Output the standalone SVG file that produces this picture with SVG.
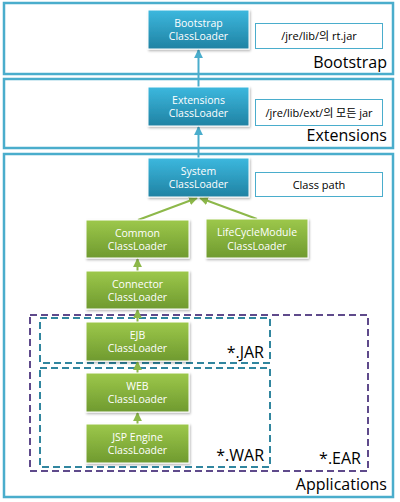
<svg xmlns="http://www.w3.org/2000/svg" width="400" height="502" viewBox="0 0 400 502">
<defs>
<linearGradient id="gb" x1="0" y1="0" x2="0" y2="1"><stop offset="0" stop-color="#3cb8de"/><stop offset="1" stop-color="#2082a3"/></linearGradient>
<linearGradient id="gg" x1="0" y1="0" x2="0" y2="1"><stop offset="0" stop-color="#9dc84b"/><stop offset="1" stop-color="#6f9a2f"/></linearGradient>
<filter id="sh" x="-10%" y="-10%" width="125%" height="130%"><feDropShadow dx="1" dy="1.5" stdDeviation="1" flood-color="#000" flood-opacity="0.3"/></filter>
<marker id="ab" viewBox="0 0 10 10" refX="9" refY="5" markerWidth="4.5" markerHeight="4.5" orient="auto"><path d="M0,0 L10,5 L0,10 z" fill="#4aadcc"/></marker>
<marker id="ag" viewBox="0 0 10 10" refX="9" refY="5" markerWidth="4.5" markerHeight="4.5" orient="auto"><path d="M0,0 L10,5 L0,10 z" fill="#8db84a"/></marker>
</defs>
<style>
.zone{fill:#fff;stroke:#4aadcc;stroke-width:2.5}
.nb{fill:url(#gb);stroke:#fff;stroke-width:1;filter:url(#sh)}
.ng{fill:url(#gg);stroke:#fff;stroke-width:1;filter:url(#sh)}
.nt{font-family:"Open Sans","Noto Sans CJK KR",sans-serif;font-size:10.5px;fill:#fff;text-anchor:middle}
.info{fill:#fff;stroke:#4aadcc;stroke-width:1}
.it{font-family:"Open Sans","Noto Sans CJK KR",sans-serif;font-size:11px;fill:#000;text-anchor:middle}
.lbl{font-family:"Open Sans","Noto Sans CJK KR",sans-serif;font-size:16px;fill:#000;text-anchor:end}
.cb{stroke:#4aadcc;stroke-width:2;fill:none;marker-end:url(#ab)}
.cg{stroke:#8db84a;stroke-width:2;fill:none;marker-end:url(#ag)}
.dp{fill:none;stroke:#5f4a8b;stroke-width:2;stroke-dasharray:7,4}
.dt{fill:none;stroke:#31869f;stroke-width:2;stroke-dasharray:7,4}
</style>
<g id="zone-bootstrap"><rect class="zone" x="4" y="3" width="389" height="71"/><text class="lbl" x="387" y="68">Bootstrap</text></g>
<g id="zone-extensions"><rect class="zone" x="4" y="79" width="389" height="69"/><text class="lbl" x="387" y="141">Extensions</text></g>
<g id="zone-applications"><rect class="zone" x="4" y="154" width="389" height="343"/><text class="lbl" x="387" y="490">Applications</text></g>
<g id="ear"><rect class="dp" x="30" y="315" width="338" height="156"/><text class="lbl" x="361" y="464">*.EAR</text></g>
<g id="jar"><rect class="dt" x="40" y="318" width="230" height="45"/><text class="lbl" x="264" y="358">*.JAR</text></g>
<g id="war"><rect class="dt" x="40" y="368" width="230" height="99"/><text class="lbl" x="264" y="461">*.WAR</text></g>
<g id="connectors">
<line class="cb" x1="198.5" y1="87" x2="198.5" y2="50"/>
<line class="cb" x1="198.5" y1="158" x2="198.5" y2="127"/>
<line class="cg" x1="138" y1="220" x2="197" y2="198"/>
<line class="cg" x1="257" y1="219" x2="200" y2="198"/>
<line class="cg" x1="137.5" y1="271" x2="137.5" y2="259"/>
<line class="cg" x1="137.5" y1="322" x2="137.5" y2="310"/>
<line class="cg" x1="137.5" y1="373" x2="137.5" y2="362"/>
<line class="cg" x1="137.5" y1="424" x2="137.5" y2="413"/>
</g>
<g id="bootstrap"><rect class="nb" x="148" y="10" width="101" height="39"/><text class="nt" x="198.5" y="27">Bootstrap</text><text class="nt" x="198.5" y="40">ClassLoader</text></g>
<g id="bootstrap-info"><rect class="info" x="255.5" y="23.5" width="127" height="25"/><text class="it" x="319" y="40">/jre/lib/의 rt.jar</text></g>
<g id="extensions"><rect class="nb" x="148" y="87" width="101" height="39"/><text class="nt" x="198.5" y="104">Extensions</text><text class="nt" x="198.5" y="117">ClassLoader</text></g>
<g id="extensions-info"><rect class="info" x="255.5" y="99.5" width="127" height="26"/><text class="it" x="319" y="117">/jre/lib/ext/의 모든 jar</text></g>
<g id="system"><rect class="nb" x="148" y="158" width="101" height="39"/><text class="nt" x="198.5" y="175">System</text><text class="nt" x="198.5" y="188">ClassLoader</text></g>
<g id="system-info"><rect class="info" x="255.5" y="172.5" width="127" height="24"/><text class="it" x="319" y="189">Class path</text></g>
<g id="common"><rect class="ng" x="86" y="220" width="103" height="38"/><text class="nt" x="137.5" y="237">Common</text><text class="nt" x="137.5" y="250">ClassLoader</text></g>
<g id="lifecycle"><rect class="ng" x="206" y="219" width="102" height="39"/><text class="nt" x="257" y="236">LifeCycleModule</text><text class="nt" x="257" y="250">ClassLoader</text></g>
<g id="connector"><rect class="ng" x="86" y="271" width="103" height="38"/><text class="nt" x="137.5" y="288">Connector</text><text class="nt" x="137.5" y="301">ClassLoader</text></g>
<g id="ejb"><rect class="ng" x="86" y="322" width="103" height="39"/><text class="nt" x="137.5" y="339">EJB</text><text class="nt" x="137.5" y="352">ClassLoader</text></g>
<g id="web"><rect class="ng" x="86" y="373" width="103" height="39"/><text class="nt" x="137.5" y="390">WEB</text><text class="nt" x="137.5" y="403">ClassLoader</text></g>
<g id="jsp"><rect class="ng" x="86" y="424" width="103" height="39"/><text class="nt" x="137.5" y="441">JSP Engine</text><text class="nt" x="137.5" y="454">ClassLoader</text></g>
</svg>
